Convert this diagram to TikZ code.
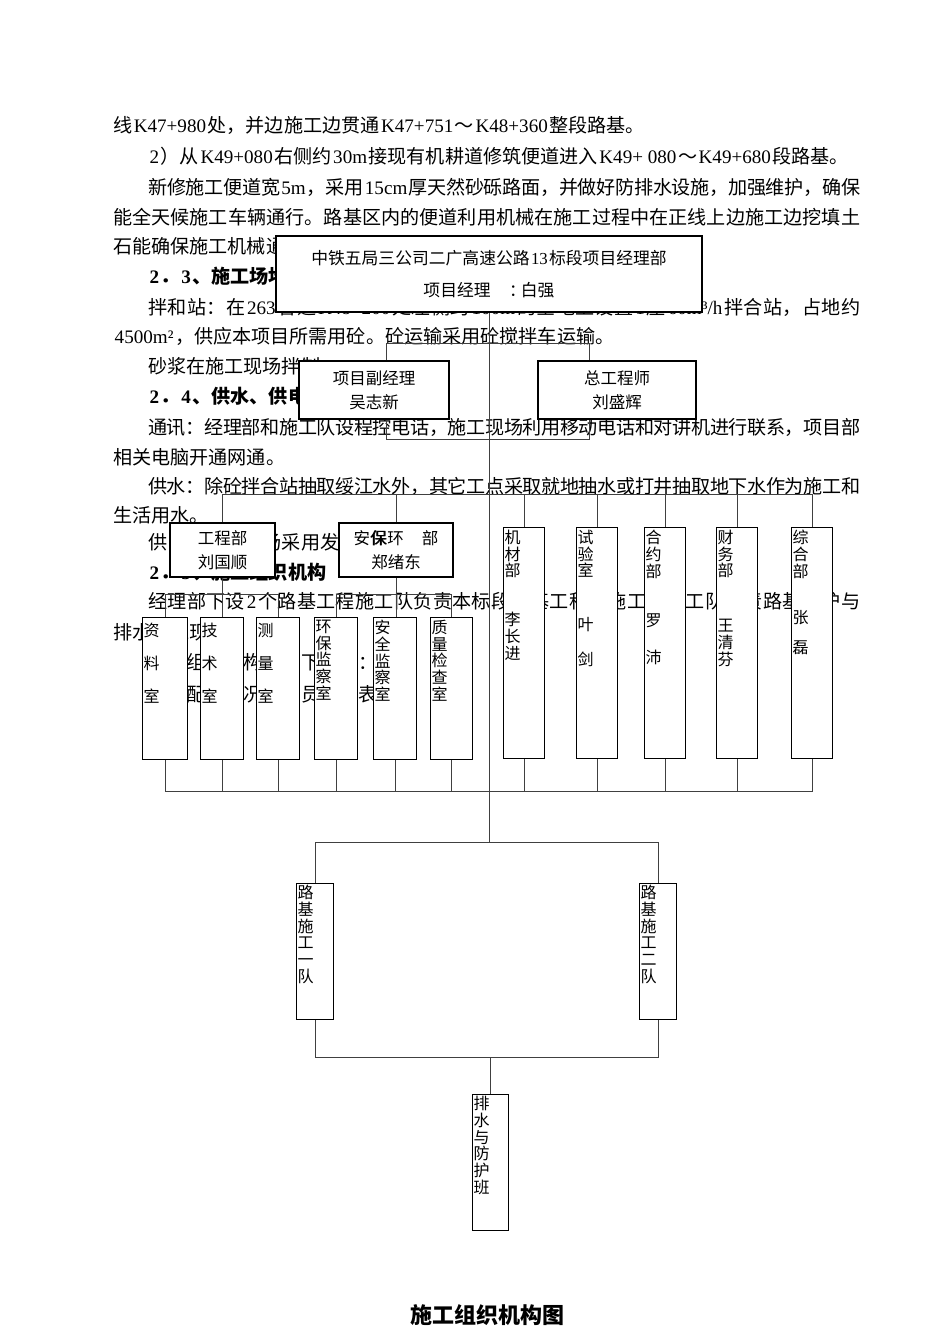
\documentclass[tikz,border=0pt]{standalone}
\usepackage{fontspec}
\setmainfont{Noto Sans CJK SC}
\newfontfamily\latfont{Liberation Serif}
\usetikzlibrary{backgrounds}

\newcommand\la[1]{\hspace{0.08em}{\latfont #1}\hspace{0.08em}}
\makeatletter
\newcommand\jline[2]{\hbox to #1{\@tfor\jl@tok:=#2\do{\jl@tok\hskip 0pt plus 1fil minus 2pt\relax}\unskip}}
\makeatother
\newcommand\vstack[4]{\parbox[t][#2][t]{#1}{\leftskip=1pt\vspace*{#3}#4}}

\begin{document}
\begin{tikzpicture}[
	x=1pt, y=-1pt,
	ptext/.style={anchor=base west, inner sep=0pt, font=\fontsize{19.1}{23}\selectfont},
	phead/.style={ptext, font=\fontsize{19.1}{23}\selectfont\bfseries},
	box/.style={draw, fill=white, line width=1.3pt, align=center, inner sep=0pt, font=\fontsize{16.5}{24}\selectfont},
	head/.style={box, font=\fontsize{16.8}{32}\selectfont},
	slim/.style={draw, fill=white, line width=1.3pt, inner sep=0pt, anchor=north west, font=\fontsize{16}{16.7}\selectfont},
	ln/.style={line width=0.9pt, black!75}
]
\useasboundingbox (0,0) rectangle (950,1344);

% management
\node[head, minimum width=426pt, minimum height=76pt] (top) at (489,274) {中铁五局三公司二广高速公路\la{13}标段项目经理部\\项目经理\hspace{1.1em}：\kern-0.3em 白强};
\node[box, minimum width=150pt, minimum height=58pt] (vice) at (374,390) {项目副经理\\吴志新};
\node[box, minimum width=158pt, minimum height=58pt] (chief) at (617,390) {总工程师\\刘盛辉};

% departments
\node[box, minimum width=105pt, minimum height=54pt] (gcb) at (222.5,550) {工程部\\刘国顺};
\node[box, minimum width=114pt, minimum height=54pt] (abh) at (396,550) {安\rlap{保}\kern0.8pt 保环\hspace{1.1em}部\\郑绪东};
\node[slim] (jc) at (503,527) {\vstack{41pt}{231pt}{2.5pt}{机\\材\\部\\[32pt]李\\长\\进}};
\node[slim] (sy) at (576,527) {\vstack{41pt}{231pt}{2.5pt}{试\\验\\室\\[37pt]叶\\[18pt]剑}};
\node[slim] (hy) at (644,527) {\vstack{41pt}{231pt}{2.5pt}{合\\约\\部\\[33pt]罗\\[20pt]沛}};
\node[slim] (cw) at (716,527) {\vstack{41pt}{231pt}{2.5pt}{财\\务\\部\\[38pt]王\\清\\芬}};
\node[slim] (zh) at (791,527) {\vstack{41pt}{231pt}{2.5pt}{综\\合\\部\\[30pt]张\\[13pt]磊}};

% offices
\node[slim] (zl) at (142,617) {\vstack{45pt}{142pt}{5.5pt}{资\\[16.3pt]料\\[16.3pt]室}};
\node[slim] (js) at (200,617) {\vstack{43pt}{142pt}{5.5pt}{技\\[16.3pt]术\\[16.3pt]室}};
\node[slim] (cl) at (256,617) {\vstack{43pt}{142pt}{5.5pt}{测\\[16.3pt]量\\[16.3pt]室}};
\node[slim] (hb) at (314,617) {\vstack{43pt}{142pt}{2.5pt}{环\\保\\监\\察\\室}};
\node[slim] (aq) at (373,617) {\vstack{43pt}{142pt}{2.5pt}{安\\全\\监\\察\\室}};
\node[slim] (zj) at (430,617) {\vstack{42pt}{142pt}{2.5pt}{质\\量\\检\\查\\室}};

% teams
\node[slim] (d1) at (296,883) {\vstack{37pt}{136pt}{1.5pt}{路\\基\\施\\工\\一\\队}};
\node[slim] (d2) at (639,883) {\vstack{37pt}{136pt}{1.5pt}{路\\基\\施\\工\\二\\队}};
\node[slim] (ps) at (472,1094) {\vstack{36pt}{136pt}{1.5pt}{排\\水\\与\\防\\护\\班}};

\node[font=\fontsize{22}{26}\selectfont\bfseries] (cap) at (487,1315) {施工组织机构图};

\begin{scope}[on background layer]
\fill[white] (0,0) rectangle (950,1344);

% page text
\node[ptext] (l1) at (113,132) {线\la{K47+980}处，并边施工边贯通\la{K47+751}～\la{K48+360}整段路基。};
\node[ptext] (l2) at (148,163) {\la{2}）从\la{K49+080}右侧约\la{30m}接现有机耕道修筑便道进入\la{K49+ 080}～\la{K49+680}段路基。};
\node[ptext] (l3) at (148,194) {\jline{712pt}{新修施工便道宽{\la{5m}}，采用{\la{15cm}}厚天然砂砾路面，并做好防排水设施，加强维护，确保}};
\node[ptext] (l4) at (113,224) {\jline{747pt}{能全天候施工车辆通行。路基区内的便道利用机械在施工过程中在正线上边施工边挖填土}};
\node[ptext] (l5) at (113,253) {石能确保施工机械通行。};
\node[phead] (l6) at (148,283) {\la{2}．\la{3}、施工场地布置};
\node[ptext] (l7) at (148,314) {\jline{712pt}{拌和站：在{\la{263}}省道{\la{K48+200}}处左侧约{\la{100m}}的空地上设置{\la{1}}座{\la{60m³/h}}拌合站，占地约}};
\node[ptext] (l8) at (113,343) {\la{4500m²}，供应本项目所需用砼。砼运输采用砼搅拌车运输。};
\node[ptext] (l9) at (148,373) {砂浆在施工现场拌制。};
\node[phead] (l10) at (148,403) {\la{2}．\la{4}、供水、供电及通讯};
\node[ptext] (l11) at (148,434) {\jline{712pt}{通讯：经理部和施工队设程控电话，施工现场利用移动电话和对讲机进行联系，项目部}};
\node[ptext] (l12) at (113,464) {相关电脑开通网通。};
\node[ptext] (l13) at (148,493) {\jline{712pt}{供水：除砼拌合站抽取绥江水外，其它工点采取就地抽水或打井抽取地下水作为施工和}};
\node[ptext] (l14) at (113,522) {生活用水。};
\node[ptext] (l15) at (148,549) {供电：施工现场采用发电机供电。};
\node[phead] (l16) at (148,579) {\la{2}．\la{5}、施工组织机构};
\node[ptext] (l17) at (148,608) {\jline{712pt}{经理部下设{\la{2}}个路基工程施工队负责本标段路基工程的施工，各工队负责路基防护与}};
\node[ptext] (l18) at (113,639) {排水施工现场。};
\node[ptext] (l19) at (148,669) {施工组织机构图如下所示：};
\node[ptext] (l20) at (148,701) {主要配置情况及人员见下表};

% connectors
\coordinate (v1) at (386,343);
\coordinate (c1) at (589,343);
\coordinate (v2) at (386,439);
\coordinate (c2) at (589,439);
\coordinate (r3) at (0,494);
\coordinate (r4) at (0,594);
\coordinate (r5) at (0,791);
\coordinate (t5) at (489,842);
\coordinate (r7) at (0,1057);

\draw[ln] (top.south) -- (t5);
\draw[ln] (vice.north -| v1) -- (v1) -- (c1) -- (chief.north -| c1);
\draw[ln] (vice.south -| v2) -- (v2) -- (c2) -- (chief.south -| c2);
\draw[ln] (gcb.north) |- (zh.north |- r3) -- (zh.north);
\foreach \n in {abh,jc,sy,hy,cw}
	\draw[ln] (\n.north) -- (\n.north |- r3);
\draw[ln] (zl.north) |- (cl.north |- r4) -- (cl.north);
\draw[ln] (hb.north) |- (zj.north |- r4) -- (zj.north);
\draw[ln] (gcb.south) -- (gcb.south |- js.north);
\draw[ln] (abh.south) -- (abh.south |- aq.north);
\draw[ln] (zl.south) |- (zh.south |- r5) -- (zh.south);
\foreach \n in {js,cl,hb,aq,zj,jc,sy,hy,cw}
	\draw[ln] (\n.south) -- (\n.south |- r5);
\draw[ln] (d1.north) |- (d2.north |- t5) -- (d2.north);
\draw[ln] (d1.south) |- (d2.south |- r7) -- (d2.south);
\draw[ln] (ps.north) -- (ps.north |- r7);
\end{scope}

\end{tikzpicture}
\end{document}
